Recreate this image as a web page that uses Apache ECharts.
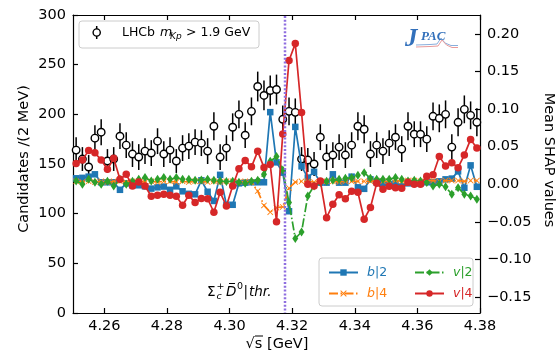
<!DOCTYPE html>
<html><head><meta charset="utf-8">
<script src="https://cdn.jsdelivr.net/npm/echarts@6/dist/echarts.min.js"></script>
<style>html,body{margin:0;padding:0;background:#fff}#c{width:560px;height:353px}</style>
</head><body><div id="c"></div>
<script>
// ---- data ----
const energies = [4.251,4.253,4.255,4.257,4.259,4.261,4.263,4.265,4.267,4.269,
  4.271,4.273,4.275,4.277,4.279,4.281,4.283,4.285,4.287,4.289,
  4.291,4.293,4.295,4.297,4.299,4.301,4.303,4.305,4.307,4.309,
  4.311,4.313,4.315,4.317,4.319,4.321,4.323,4.325,4.327,4.329,
  4.331,4.333,4.335,4.337,4.339,4.341,4.343,4.345,4.347,4.349,
  4.351,4.353,4.355,4.357,4.359,4.361,4.363,4.365,4.367,4.369,
  4.371,4.373,4.375,4.377,4.379];
const counts = [164,155,147,176,182,153,155,178,169,160,
  157,163,161,173,160,164,153,166,168,172,
  171,163,188,157,166,187,200,179,203,228,
  219,224,225,195,203,202,155,154,150,177,
  157,159,167,159,169,188,185,160,169,163,
  171,177,165,188,180,180,175,198,196,200,
  167,192,205,199,192];
const countErrors = [13,12,12,13,13,12,12,13,13,13,
  13,13,13,13,13,13,12,13,13,13,
  13,13,14,13,13,14,14,13,14,15,
  15,15,15,14,14,14,12,12,12,13,
  13,13,13,13,13,14,14,13,13,13,
  13,13,13,14,13,13,13,14,14,14,
  13,14,14,14,14];
const shapB2 = [0.008,0.0086,0.0102,0.0133,0.0027,0.0027,0.0027,-0.0073,0.0013,-0.0013,
  -0.0013,-0.0027,-0.0057,-0.004,-0.003,-0.0073,-0.0027,-0.0093,-0.0126,-0.0133,
  0.0053,-0.0099,-0.0221,0.0126,-0.0272,-0.0272,0.0013,0.0022,0.0027,0.0027,
  0.0027,0.0959,0.0292,0.0155,-0.0358,0.0763,0.0239,0.0089,0.0166,0.0022,
  0.0022,0.0133,0.0022,0.0022,0.0102,-0.004,-0.006,0.0066,0.0027,0.0013,
  0,0.0013,-0.0027,0.0013,0.0013,0.0013,0.0027,0.0027,0.004,0.0066,
  0.0076,0.0172,-0.0046,0.0252,-0.0033];
const shapB4 = [0.004,0.003,0.004,0.003,0.004,0.003,0.004,0.004,0.003,0.004,
  0.004,0.003,0.004,0.003,0.004,0.004,0.003,0.004,0.003,0.004,
  0.004,0.003,0.004,0.003,0.004,0.004,0.003,0.004,0.003,-0.009,
  -0.028,-0.037,-0.031,-0.030,-0.005,0.003,0.004,0.004,0.003,0.004,
  0.004,0.004,0.003,0.004,0.004,0.004,0.004,0.004,0.005,0.004,
  0.004,0.005,0.004,0.005,0.005,0.004,0.005,0.005,0.004,0.005,
  0.005,0.005,0.004,0.005,0.005];
const shapV2 = [0.0044,0,0.0066,0.0027,0,0.004,-0.0023,0.0066,0,0.004,
  0.0066,0.0089,0.0044,0.0066,0.0089,0.0066,0.0089,0.0066,0.0066,0.0053,
  0.0057,0.0066,0.0053,0.0044,0.0036,0.004,0.0027,0.0013,0.004,0.0053,
  0.0133,0.0305,0.0371,0.019,-0.0243,-0.072,-0.0633,-0.0155,-0.0023,0.0023,
  0.004,0.0053,0.0066,0.008,0.0086,0.0119,0.0155,0.008,0.0066,0.0066,
  0.0066,0.0089,0.0066,0.0044,0.0053,0.0044,0.0023,-0.0023,0,-0.0033,
  -0.0133,-0.0044,-0.0133,-0.0155,-0.0199];
const shapV4 = [0.0275,0.0322,0.0451,0.042,0.0322,0.0199,0.0345,0.0066,0.0133,-0.0023,
  0.003,-0.0023,-0.0159,-0.0146,-0.0133,-0.0146,-0.0159,-0.0279,-0.0146,-0.0243,
  -0.019,-0.0192,-0.0371,-0.0106,-0.0288,-0.0023,0.0208,0.0318,0.0232,0.0438,
  0.0225,0.0265,-0.0497,0.067,0.1645,0.187,0.0955,0,-0.0023,0.0044,
  -0.0444,-0.0265,-0.0139,-0.0192,-0.0093,-0.0106,-0.0464,-0.0309,0.0013,-0.0066,
  -0.0027,-0.0044,-0.0053,0.0027,0,0,0.0106,0.0126,0.0371,0.0245,
  0.0288,0.0221,0.0391,0.0597,0.0484];
const thresholdEnergy = 4.3177;
const xTicks = [4.26,4.28,4.30,4.32,4.34,4.36,4.38];
const shapTicks = [-0.15,-0.10,-0.05,0,0.05,0.10,0.15,0.20];

// ---- chart ----
const FONT = 'DejaVu Sans';
const SERIF = 'Liberation Serif';
const chart = echarts.init(document.getElementById('c'));
const axisLineStyle = {color:'#000', width:1.2};
const xPath = 'path://M1,0 L5,4 L9,0 L10,1 L6,5 L10,9 L9,10 L5,6 L1,10 L0,9 L4,5 L0,1 Z';
const dashDot = [9,2.5,1.5,2.5];
const pts = arr => arr.map((v,i)=>[energies[i], v]);
function shapSeries(name, data, color, symbol, size, dashed, z){
  return {type:'line', name, data:pts(data), xAxisIndex:0, yAxisIndex:1,
    color, symbol, symbolSize:size, showSymbol:true,
    lineStyle:{width:1.7, color, type: dashed ? dashDot : 'solid'},
    itemStyle:{color}, z, animation:false};
}
const option = {
  animation:false,
  grid:{left:73, right:80, top:15, bottom:40},
  xAxis:[
    {type:'value', min:4.25, max:4.38, position:'bottom',
     axisLine:{onZero:false, lineStyle:axisLineStyle},
     axisTick:{inside:true, length:5, lineStyle:axisLineStyle, customValues:xTicks},
     axisLabel:{customValues:xTicks, formatter:v=>v.toFixed(2), color:'#000', fontSize:14.5, fontFamily:FONT, margin:6},
     splitLine:{show:false}},
    {type:'value', min:4.25, max:4.38, position:'top',
     axisLine:{onZero:false, lineStyle:axisLineStyle},
     axisTick:{inside:true, length:5, lineStyle:axisLineStyle, customValues:xTicks},
     axisLabel:{show:false}, splitLine:{show:false}}
  ],
  yAxis:[
    {type:'value', min:0, max:300, interval:50, position:'left',
     axisLine:{show:true, onZero:false, lineStyle:axisLineStyle},
     axisTick:{show:true, inside:true, length:5, lineStyle:axisLineStyle},
     axisLabel:{color:'#000', fontSize:14.5, fontFamily:FONT, margin:7},
     splitLine:{show:false}},
    {type:'value', min:-0.171, max:0.225, position:'right',
     axisLine:{show:true, onZero:false, lineStyle:axisLineStyle},
     axisTick:{show:true, inside:true, length:5, lineStyle:axisLineStyle, customValues:shapTicks},
     axisLabel:{customValues:shapTicks, color:'#000', fontSize:14.5, fontFamily:FONT, margin:7,
       formatter:v=>(v< -1e-9?'\u2212':'')+Math.abs(v).toFixed(2)},
     splitLine:{show:false}}
  ],
  legend:[
    {data:[{name:'b|2', textStyle:{color:'#1f77b4'}},{name:'b|4', textStyle:{color:'#ff7f0e'}}],
     orient:'vertical', left:323, top:261, itemWidth:29, itemHeight:8, itemGap:8,
     textStyle:{fontSize:12.5, fontFamily:FONT, padding:[0,0,0,4], rich:{i:{fontStyle:'italic', fontSize:12.5, fontFamily:FONT}}},
     formatter:n=>'{i|'+n[0]+'}'+n.slice(1)},
    {data:[{name:'v|2', textStyle:{color:'#2ca02c'}},{name:'v|4', textStyle:{color:'#d62728'}}],
     orient:'vertical', left:409, top:261, itemWidth:29, itemHeight:8, itemGap:8,
     textStyle:{fontSize:12.5, fontFamily:FONT, padding:[0,0,0,4], rich:{i:{fontStyle:'italic', fontSize:12.5, fontFamily:FONT}}},
     formatter:n=>'{i|'+n[0]+'}'+n.slice(1)}
  ],
  series:[
    {type:'custom', name:'threshold', xAxisIndex:0, yAxisIndex:0, z:8,
     data:[[thresholdEnergy, 0]], encode:{x:0, y:1}, silent:true,
     renderItem:(params, api)=>{
       const cs = params.coordSys;
       const px = Math.round(api.coord([api.value(0), 0])[0]);
       return {type:'line', shape:{x1:px, y1:cs.y+1, x2:px, y2:cs.y+cs.height},
         style:{stroke:'#8f6fe0', lineWidth:2.5, lineDash:[2,1.8], lineCap:'butt'}};
     }},
    {type:'custom', name:'errors', xAxisIndex:0, yAxisIndex:0, z:2,
     data: counts.map((c,i)=>[energies[i], c, countErrors[i]]),
     encode:{x:0, y:1},
     renderItem:(params, api)=>{
       const x=api.value(0), y=api.value(1), e=api.value(2);
       const p1=api.coord([x,y-e]), p2=api.coord([x,y+e]);
       return {type:'line', shape:{x1:p1[0],y1:p1[1],x2:p2[0],y2:p2[1]}, style:{stroke:'#000', lineWidth:1.5}};
     }},
    {type:'scatter', name:'LHCb', xAxisIndex:0, yAxisIndex:0, z:3,
     data: counts.map((c,i)=>[energies[i], c]),
     symbol:'circle', symbolSize:7.5,
     itemStyle:{color:'#fff', borderColor:'#000', borderWidth:1.4, opacity:1}},
    shapSeries('b|2', shapB2, '#1f77b4', 'rect', 6.5, false, 4),
    shapSeries('b|4', shapB4, '#ff7f0e', xPath, 6, true, 5),
    shapSeries('v|2', shapV2, '#2ca02c', 'diamond', [6,9], true, 6),
    shapSeries('v|4', shapV4, '#d62728', 'circle', 7.5, false, 7)
  ],
  graphic:[
    // axis titles
    {type:'text', x:24, y:159, rotation:Math.PI/2,
     style:{text:'Candidates /(2 MeV)', fontSize:14.5, fontFamily:FONT, fill:'#000', align:'center', verticalAlign:'middle'}},
    {type:'text', x:549, y:160, rotation:-Math.PI/2,
     style:{text:'Mean SHAP values', fontSize:14.5, fontFamily:FONT, fill:'#000', align:'center', verticalAlign:'middle'}},
    {type:'text', x:277, y:344,
     style:{text:'\u221As [GeV]', fontSize:14.5, fontFamily:FONT, fill:'#000', align:'center', verticalAlign:'middle'}},
    {type:'line', shape:{x1:255, y1:336, x2:263, y2:336}, style:{stroke:'#000', lineWidth:1}},
    // top-left legend
    {type:'rect', z:10, shape:{x:79, y:21, width:180, height:27, r:3}, style:{fill:'rgba(255,255,255,0.8)', stroke:'#cccccc', lineWidth:1}},
    {type:'line', z:11, shape:{x1:96.7, y1:26, x2:96.7, y2:39}, style:{stroke:'#000', lineWidth:1.5}},
    {type:'circle', z:12, shape:{cx:96.7, cy:32.5, r:3.6}, style:{fill:'#fff', stroke:'#000', lineWidth:1.4}},
    {type:'text', z:12, x:122, y:33, style:{text:'LHCb', fontSize:12.5, fontFamily:FONT, fill:'#000', verticalAlign:'middle'}},
    {type:'text', z:12, x:160, y:33, style:{text:'m', fontSize:12.5, fontStyle:'italic', fontFamily:FONT, fill:'#000', verticalAlign:'middle'}},
    {type:'text', z:12, x:170, y:37, style:{text:'Kp', fontSize:9, fontStyle:'italic', fontFamily:FONT, fill:'#000', verticalAlign:'middle'}},
    {type:'text', z:12, x:186, y:33, style:{text:'> 1.9 GeV', fontSize:12.5, fontFamily:FONT, fill:'#000', verticalAlign:'middle'}},
    // bottom-right legend box
    {type:'rect', z:0, shape:{x:319, y:258, width:154, height:48, r:3}, style:{fill:'rgba(255,255,255,0.8)', stroke:'#cccccc', lineWidth:1}},
    // threshold label
    {type:'text', x:207, y:292, style:{text:'\u03A3', fontSize:13.5, fontFamily:FONT, fill:'#000', verticalAlign:'middle'}},
    {type:'text', x:216.5, y:286.5, style:{text:'+', fontSize:9.5, fontFamily:FONT, fill:'#000', verticalAlign:'middle'}},
    {type:'text', x:216.5, y:297, style:{text:'c', fontSize:9.5, fontStyle:'italic', fontFamily:FONT, fill:'#000', verticalAlign:'middle'}},
    {type:'text', x:226, y:292, style:{text:'D', fontSize:13.5, fontStyle:'italic', fontFamily:FONT, fill:'#000', verticalAlign:'middle'}},
    {type:'line', shape:{x1:229, y1:283.5, x2:235, y2:283.5}, style:{stroke:'#000', lineWidth:1}},
    {type:'text', x:237, y:286.5, style:{text:'0', fontSize:9.5, fontFamily:FONT, fill:'#000', verticalAlign:'middle'}},
    {type:'text', x:243.5, y:292, style:{text:'|', fontSize:13.5, fontFamily:FONT, fill:'#000', verticalAlign:'middle'}},
    {type:'text', x:249, y:292, style:{text:'thr.', fontSize:13.5, fontStyle:'italic', fontFamily:FONT, fill:'#000', verticalAlign:'middle'}},
    // JPAC logo
    {type:'polyline', shape:{points:[[416,45],[430,44.5],[437,44],[441,38],[445,43],[451,45.5],[458,45.5]]}, style:{stroke:'#88aedc', lineWidth:1, fill:null}},
    {type:'polyline', shape:{points:[[416,47],[430,46.5],[438,46],[442,40],[446.5,45],[452,47.5],[458,47.5]]}, style:{stroke:'#e89a9a', lineWidth:1, fill:null}},
    {type:'text', x:405, y:40, style:{text:'J', fontSize:25, fontWeight:'bold', fontStyle:'italic', fontFamily:SERIF, fill:'#3270bb', verticalAlign:'middle'}},
    {type:'text', x:421, y:37, style:{text:'PAC', fontSize:13, fontWeight:'bold', fontStyle:'italic', fontFamily:SERIF, fill:'#3270bb', verticalAlign:'middle'}}
  ]
};
chart.setOption(option);
</script></body></html>
